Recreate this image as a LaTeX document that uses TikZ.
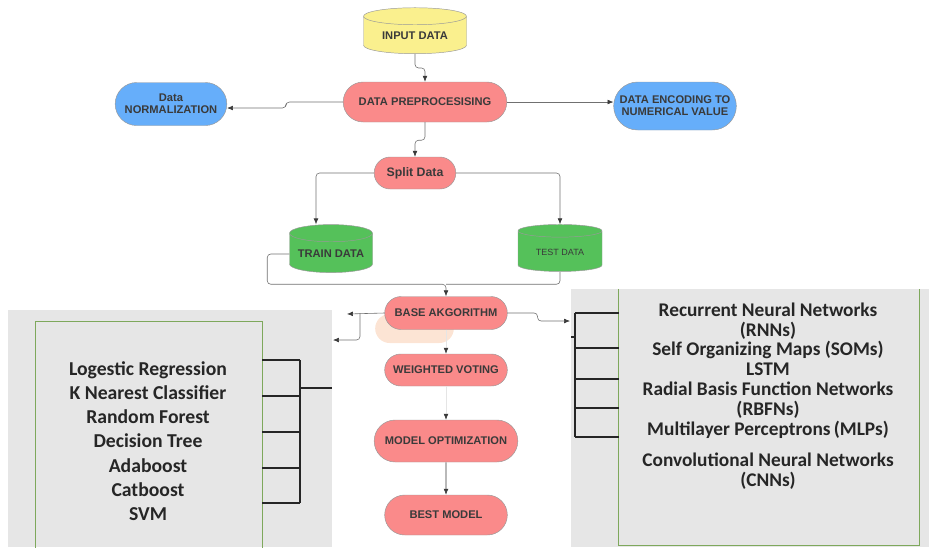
\documentclass[tikz,border=0pt]{standalone}
\usepackage{fontspec}
\usepackage{tikz}
\usetikzlibrary{shapes,positioning,calc,arrows.meta}

\newfontfamily\flowfont{Liberation Sans}
\newfontfamily\listfont{Carlito}

\definecolor{inyellow}{HTML}{FAF08E}
\definecolor{stepred}{HTML}{FA8A8A}
\definecolor{sideblue}{HTML}{66AEFA}
\definecolor{datagreen}{HTML}{55C15A}
\definecolor{panelgray}{HTML}{E6E6E6}
\definecolor{panelline}{HTML}{7EA85C}
\definecolor{ghostpeach}{HTML}{FCE4D4}
\definecolor{txtgray}{HTML}{3A3A3A}
\definecolor{linkgray}{HTML}{707070}

\begin{document}
\begin{tikzpicture}[x=0.03cm,y=-0.03cm,
		flowbox/.style={draw=gray!80,
			rounded rectangle,
			fill=stepred,
			text=txtgray,
			align=center,
			inner sep=1pt,
			font=\flowfont\bfseries\fontsize{9.5}{10}\selectfont},
		database/.style={draw=gray!80,
			cylinder,
			shape border rotate=90,
			aspect=0.25,
			text=txtgray,
			inner sep=1pt,
			font=\flowfont\bfseries\fontsize{9.5}{10}\selectfont},
		link/.style={linkgray,
			line width=0.5pt,
			rounded corners=3pt,
			-{Latex[length=5pt,width=4pt,color=txtgray]}},
		faintlink/.style={link, draw=gray!20},
		panel/.style={fill=panelgray, draw=none, inner sep=0},
		innerline/.style={panelline, line width=0.7pt},
		bracket/.style={black!85, line width=1.8pt},
		listtext/.style={align=center, text=black!85, inner sep=0}]

		\useasboundingbox (0,0) rectangle (932,547);

		% side panels
		\node[panel,
			minimum width=9.72cm,
			minimum height=7.11cm] (leftpanel) at (170,428.5) {};
		\node[inner sep=0,
			minimum width=6.78cm,
			minimum height=6.84cm] (linner) at (149,436) {};
		\draw[innerline] (linner.south west) |- (linner.north east) -- (linner.south east);

		\node[panel,
			minimum width=10.74cm,
			minimum height=7.74cm] (rightpanel) at (750,418) {};
		\node[inner sep=0,
			minimum width=9cm,
			minimum height=7.68cm] (rinner) at (769,417) {};
		\draw[innerline] (rinner.north west) |- (rinner.south east) -- (rinner.north east);

		\node[listtext,
			font=\listfont\bfseries\fontsize{16.8}{20.7}\selectfont] (classic) at (148,441)
		{Logestic Regression\\K Nearest Classifier\\Random Forest\\Decision Tree\\Adaboost\\Catboost\\SVM};

		\node[listtext,
			font=\listfont\bfseries\fontsize{16.5}{17}\selectfont] (neural) at (768,396)
		{Recurrent Neural Networks\\(RNNs)\\Self Organizing Maps (SOMs)\\LSTM\\Radial Basis Function Networks\\(RBFNs)\\Multilayer Perceptrons\,(MLPs)\\[0.33cm]Convolutional Neural Networks\\(CNNs)};

		% brackets
		\foreach \y in {360,396,432,468,503}
			\draw[bracket] (linner.east |- 0,\y) -- (300,\y);
		\draw[bracket] (300,360) -- (300,503);
		\draw[bracket] (300,388) -- (leftpanel.east |- 0,388);

		\foreach \y in {313,348,379,408,437}
			\draw[bracket] (575,\y) -- (rinner.west |- 0,\y);
		\draw[bracket] (575,313) -- (575,437);
		\draw[bracket] (575,337) -- (rightpanel.west |- 0,337);

		% flow
		\node[database,
			fill=inyellow,
			minimum width=3.09cm,
			minimum height=1.38cm] (input) at (415,36) {INPUT DATA};

		\node[flowbox,
			minimum width=4.98cm,
			minimum height=1.2cm] (prep) at (425,102) {DATA PREPROCESISING};

		\node[flowbox,
			fill=sideblue,
			minimum width=3.42cm,
			minimum height=1.29cm] (norm) at (171,104) {Data\\NORMALIZATION};

		\node[flowbox,
			fill=sideblue,
			minimum width=3.75cm,
			minimum height=1.44cm] (enc) at (675,106) {DATA ENCODING TO\\NUMERICAL VALUE};

		\node[flowbox,
			minimum width=2.52cm,
			minimum height=0.96cm,
			font=\flowfont\bfseries\fontsize{10.5}{12}\selectfont] (split) at (415,173) {Split Data};

		\node[database,
			fill=datagreen,
			minimum width=2.49cm,
			minimum height=1.44cm] (train) at (331,254) {TRAIN DATA};

		\node[database,
			fill=datagreen,
			minimum width=2.52cm,
			minimum height=1.41cm,
			font=\flowfont\fontsize{7.7}{9}\selectfont] (test) at (560,252) {TEST DATA};

		\node[flowbox,
			draw=none,
			fill=ghostpeach,
			minimum width=2.43cm,
			minimum height=0.87cm] (ghost) at (414.5,328.5) {};

		\node[flowbox,
			minimum width=3.75cm,
			minimum height=0.99cm] (base) at (446,313) {BASE AKGORITHM};

		\node[flowbox,
			minimum width=3.75cm,
			minimum height=0.96cm] (vote) at (446,370) {WEIGHTED VOTING};

		\node[flowbox,
			minimum width=4.38cm,
			minimum height=1.26cm] (optim) at (446,441) {MODEL OPTIMIZATION};

		\node[flowbox,
			minimum width=3.75cm,
			minimum height=1.2cm] (best) at (446,515) {BEST MODEL};

		\coordinate (merge) at ($(base.north)+(0,-12)$);
		\coordinate (lstray) at (347,314);
		\coordinate (lbend) at (360,313);
		\coordinate (ltip) at (333,340);
		\coordinate (rtip) at (570,321);

		\draw[link] (input.south) -- ++(0,14) -| (prep.north);
		\draw[link] (prep.west) -- ++(-57,0) |- ([yshift=-0.12cm]norm.east);
		\draw[link] (prep.east) -- (enc.west |- prep.east);
		\draw[link] (prep.south) -- ++(0,18) -| (split.north);
		\draw[link] (split.west) -| ([xshift=-0.45cm]train.north);
		\draw[link] (split.east) -| (test.north);
		\draw[link] (train.west) -- ++(-22,0) |- (merge) -- (base.north);
		\draw[link,-] (test.south) |- (merge);
		\draw[link] (base.west) -- (lstray);
		\draw[link] (lbend) |- (ltip);
		\draw[link] (base.east) -- ++(30,0) |- (rtip);
		\draw[faintlink] (base.south) -- (vote.north);
		\draw[faintlink] (vote.south) -- (optim.north);
		\draw[link,draw=txtgray] (optim) -- (best);

	\end{tikzpicture}
\end{document}
